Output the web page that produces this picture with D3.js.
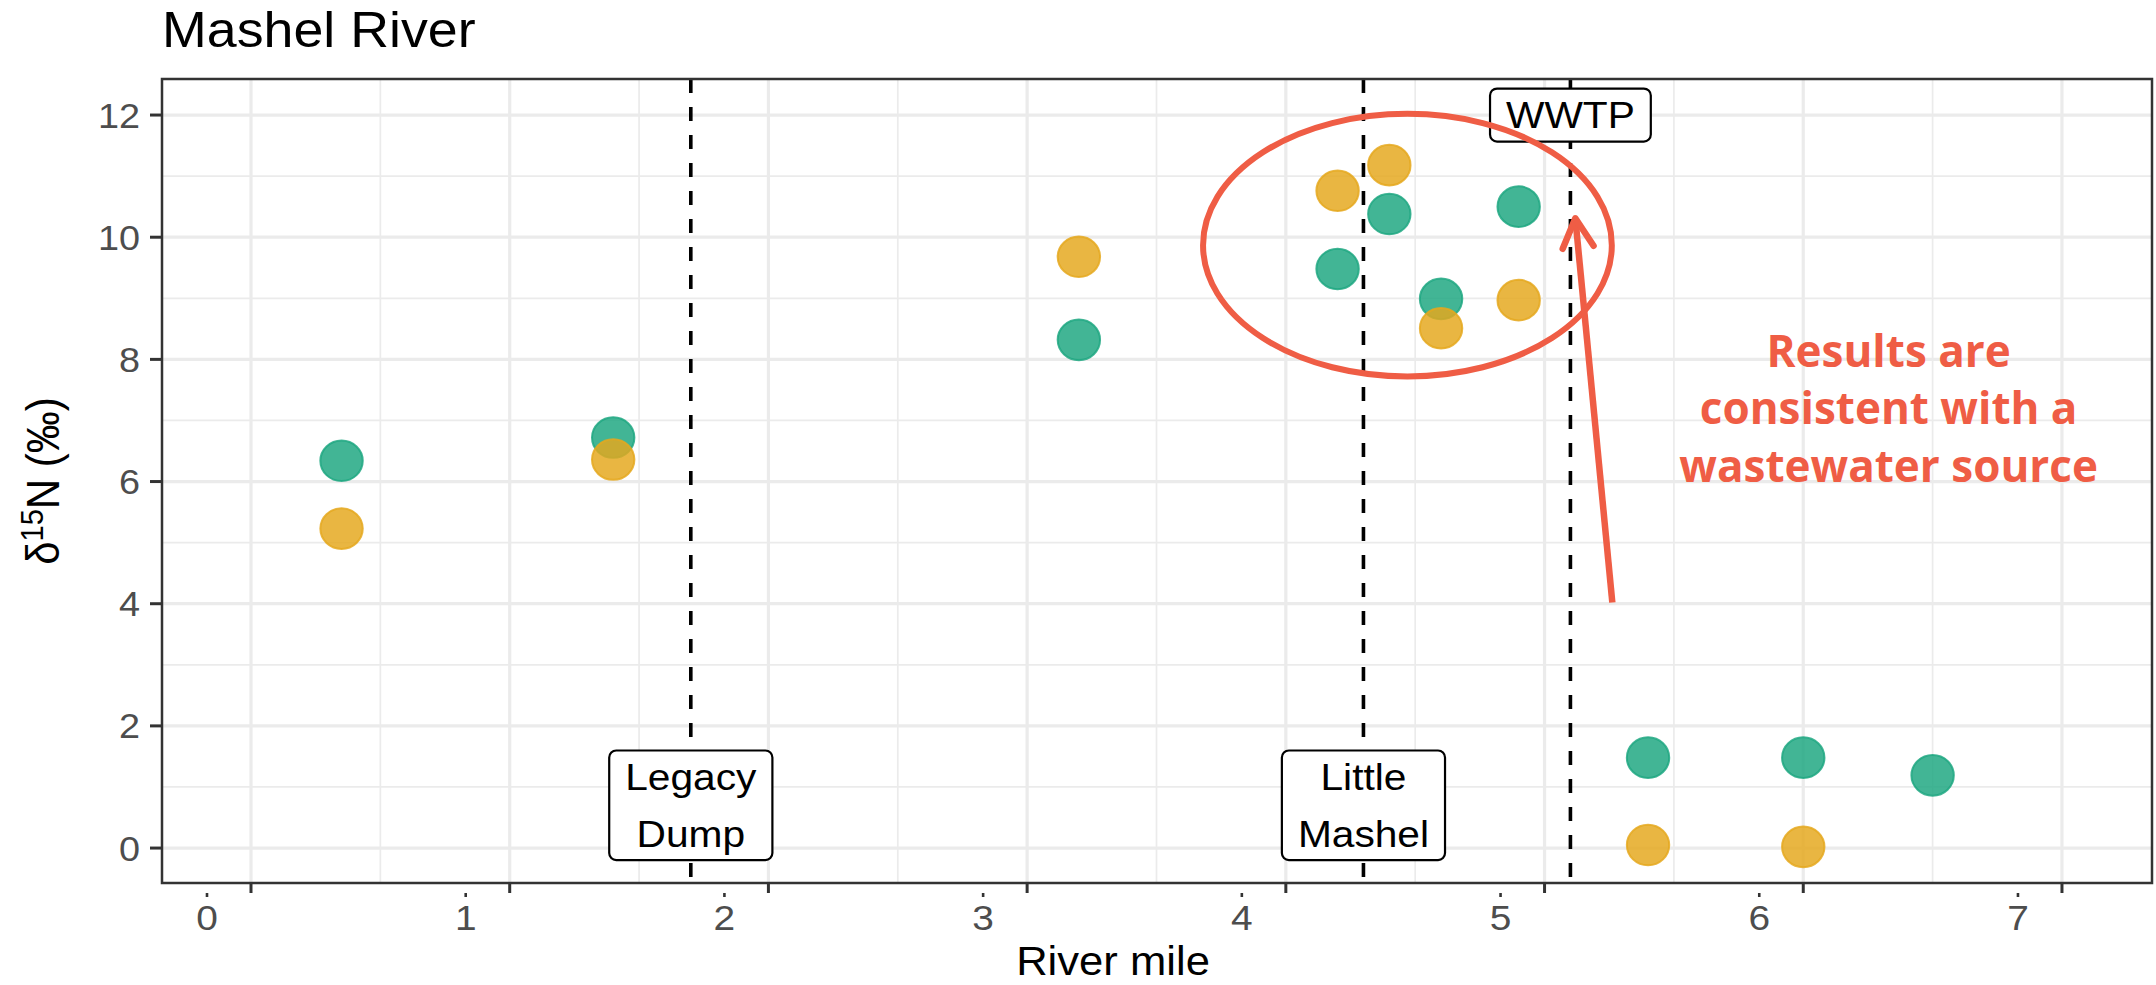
<!DOCTYPE html>
<html><head><meta charset="utf-8">
<script src="https://cdn.jsdelivr.net/npm/d3@7"></script>
<style>html,body{margin:0;padding:0;background:#fff;} svg{display:block}</style>
</head><body>
<svg id="chart" width="2156" height="985"></svg>
<script>
// ---------------- data ----------------
const riverMile    = [0.35, 1.40, 3.20, 4.20, 4.40, 4.60, 4.90, 5.40, 6.00, 6.50];
const seriesGreen  = [6.34, 6.72, 8.32, 9.48, 10.38, 8.99, 10.50, 1.48, 1.48, 1.19];
const seriesOrange = [5.23, 6.36, 9.68, 10.76, 11.18, 8.51, 8.97, 0.05, 0.02, null];
const xTicks = [0, 1, 2, 3, 4, 5, 6, 7];
const yTicks = [0, 2, 4, 6, 8, 10, 12];
const xMinor = [0.5, 1.5, 2.5, 3.5, 4.5, 5.5, 6.5];
const yMinor = [1, 3, 5, 7, 9, 11];
const siteNames  = [["Legacy", "Dump"], ["Little", "Mashel"], ["WWTP"]];
const siteMiles  = [1.7, 4.3, 5.1];
const siteLabelY = [0.7, 0.7, 12.0];
const highlightEllipse = [4.47, 9.87, 0.79, 2.15];   // cx, cy, rx, ry (data units)
const arrowPath = [[5.262, 4.02], [5.119, 10.31]];   // tail, tip (data units)
const noteLines = ["Results are", "consistent with a", "wastewater source"];
const noteAnchor = [6.33, 7.88];
const titleText = "Mashel River";
const xTitle = "River mile";

// ---------------- layout ----------------
const P = {l: 162, r: 2152, t: 79, b: 883};
const x = d3.scaleLinear().domain([-0.344, 7.348]).range([P.l, P.r]);
const y = d3.scaleLinear().domain([-0.572, 12.59]).range([P.b, P.t]);
const svg = d3.select('#chart');
const FONT = "'Liberation Sans', Arial, Helvetica, sans-serif";
const GREEN = "#1EA781", ORANGE = "#E5A81E", CORAL = "#EF5D45";
const LABEL_SHIFT = -44;

function stext(parent, px, py, str, size, anchor, o = {}) {
  const t = parent.append('text')
    .attr('transform', `translate(${px},${py}) scale(${o.sx || 1.08},1)` + (o.rot ? ` rotate(${o.rot})` : ''))
    .attr('text-anchor', anchor)
    .attr('font-family', o.family || FONT)
    .attr('font-size', size)
    .attr('fill', o.fill || '#000');
  if (o.weight) t.attr('font-weight', o.weight);
  if (str !== null) t.text(str);
  return t;
}

// gridlines
const grid = svg.append('g');
grid.selectAll('.vmin').data(xMinor).join('line')
  .attr('x1', d => x(d)).attr('x2', d => x(d)).attr('y1', P.t).attr('y2', P.b)
  .attr('stroke', '#EBEBEB').attr('stroke-width', 1.7);
grid.selectAll('.hmin').data(yMinor).join('line')
  .attr('y1', d => y(d)).attr('y2', d => y(d)).attr('x1', P.l).attr('x2', P.r)
  .attr('stroke', '#EBEBEB').attr('stroke-width', 1.7);
grid.selectAll('.vmaj').data(xTicks).join('line')
  .attr('x1', d => x(d)).attr('x2', d => x(d)).attr('y1', P.t).attr('y2', P.b)
  .attr('stroke', '#EBEBEB').attr('stroke-width', 3.2);
grid.selectAll('.hmaj').data(yTicks).join('line')
  .attr('y1', d => y(d)).attr('y2', d => y(d)).attr('x1', P.l).attr('x2', P.r)
  .attr('stroke', '#EBEBEB').attr('stroke-width', 3.2);

// dashed site lines
svg.append('g').selectAll('line').data(siteMiles).join('line')
  .attr('x1', d => x(d)).attr('x2', d => x(d)).attr('y1', P.t).attr('y2', P.b)
  .attr('stroke', '#000').attr('stroke-width', 3.6).attr('stroke-dasharray', '14 14');

// points
function drawSeries(vals, col) {
  const pts = riverMile.map((m, i) => ({m, v: vals[i]})).filter(d => d.v !== null);
  svg.append('g').selectAll('ellipse').data(pts).join('ellipse')
    .attr('cx', d => x(d.m)).attr('cy', d => y(d.v))
    .attr('rx', 21.2).attr('ry', 20.3)
    .attr('fill', col).attr('fill-opacity', 0.84)
    .attr('stroke', col).attr('stroke-opacity', 0.84).attr('stroke-width', 2);
}
drawSeries(seriesGreen, GREEN);
drawSeries(seriesOrange, ORANGE);

// site labels
siteNames.forEach((lines, i) => {
  const cx = x(siteMiles[i]), cy = y(siteLabelY[i]);
  const g = svg.append('g');
  const rect = g.append('rect');
  const n = lines.length;
  let maxW = 0;
  lines.forEach((ln, j) => {
    const t = stext(g, cx, cy + 13.3 + (j - (n - 1) / 2) * 56.6, ln, 37, 'middle', {sx: 1.1});
    maxW = Math.max(maxW, t.node().getComputedTextLength() * 1.1);
  });
  const bw = maxW + 32, bh = 53 + (n - 1) * 56.6;
  rect.attr('x', cx - bw / 2).attr('y', cy - bh / 2).attr('width', bw).attr('height', bh)
    .attr('rx', 7).attr('ry', 7).attr('fill', '#fff').attr('stroke', '#000').attr('stroke-width', 2.2);
});

// panel border
svg.append('rect').attr('x', P.l).attr('y', P.t).attr('width', P.r - P.l).attr('height', P.b - P.t)
  .attr('fill', 'none').attr('stroke', '#333').attr('stroke-width', 2.5);

// y axis
const ya = svg.append('g');
ya.selectAll('line').data(yTicks).join('line')
  .attr('x1', P.l - 12).attr('x2', P.l).attr('y1', d => y(d)).attr('y2', d => y(d))
  .attr('stroke', '#333').attr('stroke-width', 3);
yTicks.forEach(v => stext(ya, 140, y(v) + 12.6, String(v), 35, 'end', {fill: '#4D4D4D'}));

// x axis
const xa = svg.append('g');
xa.selectAll('.tk').data(xTicks).join('line')
  .attr('x1', d => x(d)).attr('x2', d => x(d)).attr('y1', P.b).attr('y2', P.b + 10)
  .attr('stroke', '#333').attr('stroke-width', 3);
xa.selectAll('.dot').data(xTicks).join('line')
  .attr('x1', d => x(d) + LABEL_SHIFT).attr('x2', d => x(d) + LABEL_SHIFT)
  .attr('y1', P.b + 10).attr('y2', P.b + 14)
  .attr('stroke', '#333').attr('stroke-width', 2.6);
xTicks.forEach(v => stext(xa, x(v) + LABEL_SHIFT, 930, String(v), 36, 'middle', {fill: '#4D4D4D'}));

// axis titles
stext(svg, (P.l + P.r) / 2 + LABEL_SHIFT, 975, xTitle, 40, 'middle', {sx: 1.09});
const yt = stext(svg, 59, (P.t + P.b) / 2, null, 42, 'middle', {rot: -90});
yt.append('tspan').text('δ');
yt.append('tspan').attr('font-size', 29).attr('dy', -15).text('15');
yt.append('tspan').attr('dy', 15).text('N (‰)');

// title
stext(svg, P.l, 47, titleText, 50, 'start', {sx: 1.075});

// annotations
svg.append('ellipse')
  .attr('cx', x(highlightEllipse[0])).attr('cy', y(highlightEllipse[1]))
  .attr('rx', x(highlightEllipse[0] + highlightEllipse[2]) - x(highlightEllipse[0]))
  .attr('ry', y(highlightEllipse[1]) - y(highlightEllipse[1] + highlightEllipse[3]))
  .attr('fill', 'none').attr('stroke', CORAL).attr('stroke-width', 6);

const tail = [x(arrowPath[0][0]), y(arrowPath[0][1])];
const tip = [x(arrowPath[1][0]), y(arrowPath[1][1])];
svg.append('line').attr('x1', tail[0]).attr('y1', tail[1]).attr('x2', tip[0]).attr('y2', tip[1])
  .attr('stroke', CORAL).attr('stroke-width', 6.5).attr('stroke-linecap', 'butt');
const ang = Math.atan2(tail[1] - tip[1], tail[0] - tip[0]);
const hl = 33, ha = 28 * Math.PI / 180;
const w1 = [tip[0] + hl * Math.cos(ang + ha), tip[1] + hl * Math.sin(ang + ha)];
const w2 = [tip[0] + hl * Math.cos(ang - ha), tip[1] + hl * Math.sin(ang - ha)];
svg.append('path').attr('d', d3.line()([w1, tip, w2]))
  .attr('fill', 'none').attr('stroke', CORAL).attr('stroke-width', 6.5)
  .attr('stroke-linecap', 'round').attr('stroke-linejoin', 'round');

noteLines.forEach((ln, i) => {
  svg.append('text').attr('x', x(noteAnchor[0])).attr('y', y(noteAnchor[1]) + i * 57.5)
    .attr('text-anchor', 'middle').attr('font-family', "'Open Sans', 'Noto Sans', sans-serif")
    .attr('font-weight', 700).attr('font-size', 44).attr('fill', CORAL).text(ln);
});
</script>
</body></html>
